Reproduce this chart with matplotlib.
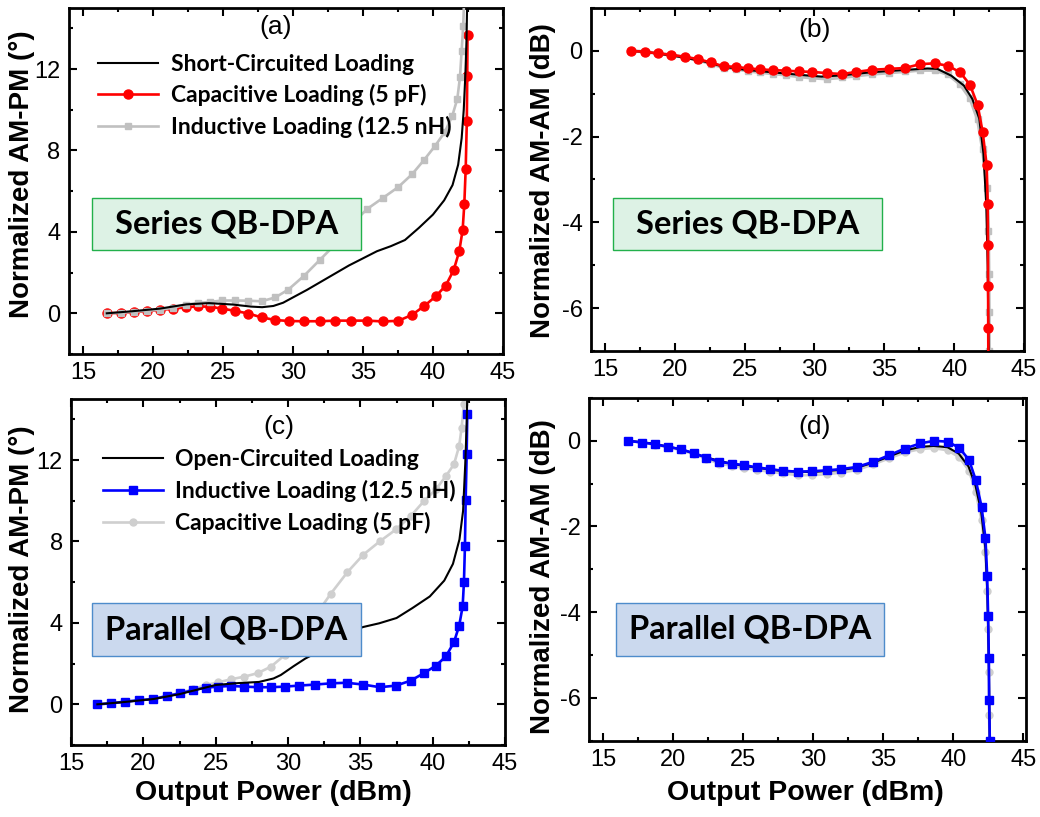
import numpy as np
import matplotlib
matplotlib.use("Agg")
import matplotlib.pyplot as plt
from matplotlib.patches import Rectangle
from matplotlib.ticker import MultipleLocator

plt.rcParams['font.family'] = ['Liberation Sans', 'DejaVu Sans']
plt.rcParams['axes.unicode_minus'] = False

# ---------------- (a) Series QB-DPA, AM-PM ----------------
a_short_x = [16.7, 18.5, 20.5, 22.4, 24.0, 25.7, 27.0, 27.8, 28.6, 29.3, 30.0, 31.0, 32.0, 33.0,
             34.0, 35.0, 36.0, 37.0, 38.0, 39.0, 40.0, 40.8, 41.4, 41.8, 42.05, 42.2, 42.32, 42.4, 42.45]
a_short_y = [0, 0.1, 0.23, 0.44, 0.5, 0.43, 0.33, 0.3, 0.36, 0.52, 0.78, 1.15, 1.55, 1.95,
             2.35, 2.7, 3.05, 3.3, 3.6, 4.2, 4.85, 5.55, 6.3, 7.3, 8.6, 10.0, 11.8, 13.5, 15.5]

a_cap_x = [16.7, 17.7, 18.65, 19.57, 20.5, 21.43, 22.35, 23.25, 24.1, 24.95, 25.86, 26.81, 27.76,
           28.74, 29.74, 30.81, 31.93, 33.02, 34.16, 35.31, 36.43, 37.52, 38.5, 39.38, 40.21,
           40.91, 41.48, 41.88, 42.12, 42.24, 42.34, 42.42, 42.45, 42.47]
a_cap_y = [0, 0.02, 0.06, 0.1, 0.17, 0.22, 0.3, 0.34, 0.32, 0.23, 0.12, -0.01, -0.2, -0.33,
           -0.38, -0.39, -0.39, -0.36, -0.36, -0.36, -0.4, -0.37, -0.08, 0.36, 0.84, 1.36,
           2.12, 3.05, 4.09, 5.36, 7.11, 9.46, 11.68, 13.68]

a_ind_x = [16.7, 17.7, 18.65, 19.57, 20.5, 21.43, 22.35, 23.25, 24.1, 24.95, 25.86, 26.81, 27.76,
           28.74, 29.66, 30.79, 31.93, 33.07, 34.16, 35.31, 36.45, 37.52, 38.52, 39.36, 40.16,
           40.86, 41.38, 41.74, 41.93, 42.05, 42.16, 42.22, 42.28]
a_ind_y = [0, 0.02, 0.08, 0.12, 0.18, 0.27, 0.43, 0.51, 0.56, 0.63, 0.63, 0.62, 0.59,
           0.78, 1.16, 1.84, 2.63, 3.42, 4.35, 5.13, 5.68, 6.2, 6.84, 7.53, 8.23,
           8.92, 9.7, 10.53, 11.6, 12.9, 14.1, 15.3, 16.5]

# ---------------- (b) Series QB-DPA, AM-AM ----------------
b_short_x = [16.86, 18.0, 20.0, 22.0, 23.5, 25.0, 27.0, 29.0, 30.5, 32.0, 34.0, 36.2, 38.1,
             38.8, 39.8, 40.7, 41.3, 41.8, 42.1, 42.3, 42.4, 42.45, 42.5]
b_short_y = [0, -0.03, -0.12, -0.24, -0.37, -0.44, -0.5, -0.56, -0.6, -0.57, -0.5, -0.45, -0.41,
             -0.42, -0.58, -0.81, -1.12, -1.58, -2.4, -3.6, -5.0, -6.5, -7.5]

b_cap_x = [16.86, 17.86, 18.81, 19.76, 20.71, 21.66, 22.57, 23.5, 24.36, 25.26, 26.12, 27.02,
           27.93, 28.88, 29.84, 30.9, 31.99, 33.0, 34.14, 35.33, 36.46, 37.56, 38.62, 39.57,
           40.43, 41.13, 41.68, 42.04, 42.33, 42.4, 42.42, 42.43, 42.44, 42.45]
b_cap_y = [0, -0.02, -0.06, -0.09, -0.14, -0.19, -0.27, -0.36, -0.37, -0.41, -0.43, -0.45,
           -0.46, -0.48, -0.49, -0.52, -0.54, -0.49, -0.44, -0.42, -0.40, -0.31, -0.29, -0.35,
           -0.5, -0.79, -1.26, -1.89, -2.67, -3.56, -4.53, -5.49, -6.47, -7.5]

b_ind_x = [16.86, 17.86, 18.81, 19.76, 20.71, 21.66, 22.57, 23.5, 24.36, 25.26, 26.12, 27.02,
           27.93, 28.88, 29.84, 30.9, 31.99, 33.0, 34.14, 35.33, 36.46, 37.56, 38.62, 39.57,
           40.43, 41.13, 41.68, 42.04, 42.35, 42.45, 42.48, 42.5, 42.51, 42.52]
b_ind_y = [0, -0.02, -0.06, -0.1, -0.15, -0.21, -0.3, -0.39, -0.42, -0.47, -0.5, -0.53,
           -0.56, -0.6, -0.63, -0.65, -0.62, -0.58, -0.54, -0.51, -0.48, -0.45, -0.45, -0.55,
           -0.78, -1.1, -1.6, -2.3, -3.2, -4.2, -5.2, -6.1, -7.0, -7.8]

# ---------------- (c) Parallel QB-DPA, AM-PM ----------------
c_open_x = [16.82, 18.5, 20.7, 22.5, 23.5, 25.0, 26.5, 28.0, 29.0, 29.5, 30.4, 31.2, 32.0, 32.9,
            34.0, 35.2, 36.3, 37.5, 38.6, 39.8, 40.8, 41.4, 41.85, 42.1, 42.25, 42.35, 42.4]
c_open_y = [0, 0.1, 0.26, 0.5, 0.68, 0.95, 1.04, 1.1, 1.27, 1.44, 1.88, 2.25, 2.55, 3.08,
            3.5, 3.8, 3.98, 4.24, 4.73, 5.3, 6.08, 6.9, 8.1, 9.5, 11.8, 13.8, 15.5]

c_ind_x = [16.82, 17.76, 18.73, 19.72, 20.69, 21.65, 22.53, 23.45, 24.33, 25.18, 26.06, 26.98,
           27.9, 28.82, 29.79, 30.77, 31.86, 32.96, 34.05, 35.2, 36.35, 37.46, 38.47, 39.39,
           40.22, 40.91, 41.47, 41.83, 42.07, 42.16, 42.23, 42.28, 42.35, 42.39]
c_ind_y = [0, 0.05, 0.13, 0.2, 0.26, 0.41, 0.54, 0.7, 0.82, 0.87, 0.9, 0.87, 0.84, 0.84, 0.87,
           0.92, 0.97, 1.03, 1.06, 0.97, 0.84, 0.92, 1.16, 1.53, 1.9, 2.35, 3.05, 3.86, 4.81,
           6.0, 7.8, 10.06, 12.32, 14.25]

c_cap_x = [16.82, 17.76, 18.73, 19.72, 20.69, 21.65, 22.53, 23.45, 24.33, 25.18, 26.06, 26.98,
           27.9, 28.82, 29.79, 30.78, 31.86, 32.95, 34.09, 35.2, 36.35, 37.46, 38.47, 39.39,
           40.22, 40.91, 41.47, 41.83, 42.0, 42.16, 42.3]
c_cap_y = [0, 0.05, 0.13, 0.2, 0.27, 0.42, 0.56, 0.75, 0.95, 1.08, 1.23, 1.36, 1.53, 1.85,
           2.43, 3.33, 4.32, 5.43, 6.48, 7.35, 8.01, 8.59, 9.24, 9.98, 10.56, 11.21, 11.79,
           12.69, 13.6, 14.74, 15.8]

# ---------------- (d) Parallel QB-DPA, AM-AM ----------------
d_open_x = [16.79, 18.5, 20.6, 22.4, 24.2, 26.0, 27.9, 29.9, 32.0, 33.1, 34.3, 35.4, 36.5, 37.7,
            38.6, 39.6, 40.4, 41.1, 41.6, 42.0, 42.3, 42.45, 42.55, 42.62]
d_open_y = [0, -0.06, -0.2, -0.39, -0.54, -0.63, -0.71, -0.73, -0.68, -0.63, -0.51, -0.37,
            -0.23, -0.14, -0.12, -0.15, -0.3, -0.6, -1.05, -1.65, -2.5, -3.6, -5.2, -7.2]

d_ind_x = [16.79, 17.79, 18.69, 19.64, 20.6, 21.48, 22.39, 23.27, 24.19, 25.09, 26.0, 26.91,
           27.86, 28.89, 29.93, 30.96, 32.03, 33.14, 34.29, 35.41, 36.55, 37.67, 38.64, 39.6,
           40.43, 41.14, 41.62, 42.03, 42.31, 42.43, 42.5, 42.55, 42.57, 42.62]
d_ind_y = [0, -0.04, -0.08, -0.14, -0.2, -0.29, -0.39, -0.49, -0.53, -0.57, -0.62, -0.66,
           -0.7, -0.72, -0.71, -0.69, -0.66, -0.61, -0.49, -0.34, -0.18, -0.06, 0, -0.02,
           -0.16, -0.45, -0.92, -1.54, -2.28, -3.15, -4.1, -5.07, -6.04, -7.0]

d_cap_x = d_ind_x
d_cap_y = [0, -0.04, -0.09, -0.15, -0.22, -0.31, -0.42, -0.53, -0.58, -0.63, -0.68, -0.72,
           -0.76, -0.8, -0.8, -0.78, -0.74, -0.68, -0.55, -0.41, -0.27, -0.19, -0.17, -0.22,
           -0.38, -0.7, -1.2, -1.85, -2.6, -3.5, -4.4, -5.4, -6.4, -7.3]

calibri_like = ['Lato', 'DejaVu Sans']
RED = '#FF0000'
BLUE = '#0000FF'
GRAY = '#C0C0C0'
LGRAY = '#CFCFCF'


def style_axes(ax, ylim, yticks, yminor, xlim):
    ax.set_xlim(*xlim)
    ax.set_ylim(*ylim)
    ax.set_xticks([15, 20, 25, 30, 35, 40, 45])
    ax.set_yticks(yticks)
    ax.xaxis.set_minor_locator(MultipleLocator(2.5))
    ax.yaxis.set_minor_locator(MultipleLocator(yminor))
    ax.tick_params(which='both', direction='in', top=True, right=True, width=1.5,
                   labelsize=17)
    ax.tick_params(which='major', length=5.5, pad=6)
    ax.tick_params(which='minor', length=3)
    for s in ax.spines.values():
        s.set_linewidth(2.0)


def add_box(ax, x0, y0, x1, y1, face, edge, text):
    ax.add_patch(Rectangle((x0, y0), x1 - x0, y1 - y0, transform=ax.transAxes,
                           facecolor=face, edgecolor=edge, linewidth=1.0, zorder=6))
    ax.text((x0 + x1) / 2, (y0 + y1) / 2, text, transform=ax.transAxes, ha='center',
            va='center', fontsize=23.5, fontweight='bold', family=calibri_like, zorder=7)


legend_font = {'family': calibri_like, 'weight': 'bold', 'size': 16.5}

fig = plt.figure(figsize=(10.4, 8.17), dpi=100)
ax_a = fig.add_axes([0.0663, 0.5667, 0.4173, 0.4235])
ax_b = fig.add_axes([0.5683, 0.5704, 0.4163, 0.4198])
ax_c = fig.add_axes([0.0683, 0.0881, 0.4173, 0.4235])
ax_d = fig.add_axes([0.5663, 0.0934, 0.4202, 0.4195])

# (a)
ax_a.plot(a_cap_x, a_cap_y, color=RED, marker='o', ms=6.5, lw=1.9, zorder=2,
          label='Capacitive Loading (5 pF)')
ax_a.plot(a_ind_x, a_ind_y, color=GRAY, marker='s', ms=5, lw=1.9, zorder=3,
          label='Inductive Loading (12.5 nH)')
ax_a.plot(a_short_x, a_short_y, color='black', lw=1.5, zorder=4,
          label='Short-Circuited Loading')
style_axes(ax_a, (-2, 15), [0, 4, 8, 12], 2, (14, 45))
h, l = ax_a.get_legend_handles_labels()
ax_a.legend([h[2], h[0], h[1]], [l[2], l[0], l[1]], loc='upper left',
            bbox_to_anchor=(0.068, 0.868), frameon=False, handlelength=2.6,
            handletextpad=0.55, labelspacing=0.42, borderpad=0, borderaxespad=0,
            prop=legend_font)
ax_a.text(0.477, 0.944, '(a)', transform=ax_a.transAxes, ha='center', va='center', fontsize=19)
add_box(ax_a, 0.053, 0.3006, 0.673, 0.451, '#DDF2E5', '#22B04B', 'Series QB-DPA')
ax_a.set_ylabel('Normalized AM-PM (°)', fontsize=20, fontweight='bold')
ax_a.yaxis.set_label_coords(-0.078, 0.52)

# (b)
ax_b.plot(b_ind_x, b_ind_y, color=GRAY, marker='s', ms=5, lw=2.5, zorder=2)
ax_b.plot(b_short_x, b_short_y, color='black', lw=1.5, zorder=3)
ax_b.plot(b_cap_x, b_cap_y, color=RED, marker='o', ms=6.5, lw=1.9, zorder=4)
style_axes(ax_b, (-7, 1), [0, -2, -4, -6], 1, (14, 45))
ax_b.text(0.517, 0.936, '(b)', transform=ax_b.transAxes, ha='center', va='center', fontsize=19)
add_box(ax_b, 0.0515, 0.2945, 0.671, 0.445, '#DDF2E5', '#22B04B', 'Series QB-DPA')
ax_b.set_ylabel('Normalized AM-AM (dB)', fontsize=20, fontweight='bold')
ax_b.yaxis.set_label_coords(-0.081, 0.496)

# (c)
ax_c.plot(c_cap_x, c_cap_y, color=LGRAY, marker='o', ms=5, lw=1.9, zorder=2,
          label='Capacitive Loading (5 pF)')
ax_c.plot(c_ind_x, c_ind_y, color=BLUE, marker='s', ms=5.5, lw=1.9, zorder=3,
          label='Inductive Loading (12.5 nH)')
ax_c.plot(c_open_x, c_open_y, color='black', lw=1.5, zorder=4,
          label='Open-Circuited Loading')
style_axes(ax_c, (-2, 15), [0, 4, 8, 12], 2, (15, 45))
h, l = ax_c.get_legend_handles_labels()
ax_c.legend([h[2], h[1], h[0]], [l[2], l[1], l[0]], loc='upper left',
            bbox_to_anchor=(0.074, 0.855), frameon=False, handlelength=2.6,
            handletextpad=0.55, labelspacing=0.42, borderpad=0, borderaxespad=0,
            prop=legend_font)
ax_c.text(0.479, 0.92, '(c)', transform=ax_c.transAxes, ha='center', va='center', fontsize=19)
add_box(ax_c, 0.049, 0.258, 0.6675, 0.4095, '#CBD9EE', '#4E8CCB', 'Parallel QB-DPA')
ax_c.set_ylabel('Normalized AM-PM (°)', fontsize=20, fontweight='bold')
ax_c.yaxis.set_label_coords(-0.084, 0.507)
ax_c.set_xlabel('Output Power (dBm)', fontsize=20.5, fontweight='bold')
ax_c.xaxis.set_label_coords(0.467, -0.1)

# (d)
ax_d.plot(d_cap_x, d_cap_y, color=LGRAY, marker='o', ms=5, lw=2.0, zorder=2)
ax_d.plot(d_open_x, d_open_y, color='black', lw=1.5, zorder=3)
ax_d.plot(d_ind_x, d_ind_y, color=BLUE, marker='s', ms=5.5, lw=1.9, zorder=4)
style_axes(ax_d, (-7, 1), [0, -2, -4, -6], 1, (14, 45.2))
ax_d.text(0.517, 0.916, '(d)', transform=ax_d.transAxes, ha='center', va='center', fontsize=19)
add_box(ax_d, 0.0618, 0.248, 0.6757, 0.401, '#CBD9EE', '#4E8CCB', 'Parallel QB-DPA')
ax_d.set_ylabel('Normalized AM-AM (dB)', fontsize=20, fontweight='bold')
ax_d.yaxis.set_label_coords(-0.0755, 0.479)
ax_d.set_xlabel('Output Power (dBm)', fontsize=20.5, fontweight='bold')
ax_d.xaxis.set_label_coords(0.496, -0.115)

fig.savefig('out.png', dpi=100)
